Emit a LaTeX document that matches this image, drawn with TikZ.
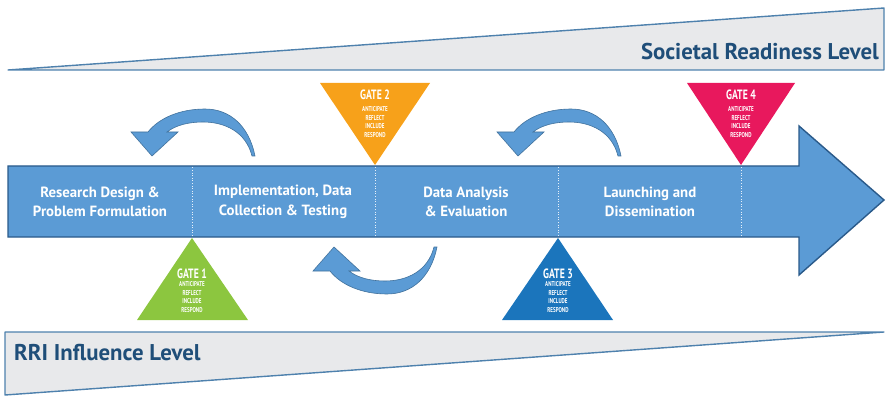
\documentclass[tikz,border=0pt]{standalone}
\usepackage{fontspec}
\setmainfont{PT Sans}
\newfontfamily\condfont[FakeStretch=0.72]{PT Sans}
\definecolor{armfill}{HTML}{5B9BD5}
\definecolor{armline}{HTML}{2A5A8A}
\definecolor{wedgefill}{HTML}{E8E9EB}
\definecolor{wedgeline}{HTML}{4E81AD}
\definecolor{titlecol}{HTML}{1F4E79}
\definecolor{gorange}{HTML}{F7A11A}
\definecolor{gpink}{HTML}{E8185D}
\definecolor{ggreen}{HTML}{8CC63F}
\definecolor{gblue}{HTML}{1B75BC}
\definecolor{curveline}{HTML}{41719C}
\tikzset{
  wedge/.style={fill=wedgefill, draw=wedgeline, line width=1.4pt, line join=round},
  titletext/.style={text=titlecol, font=\bfseries\fontsize{22.8}{24}\selectfont, inner sep=0pt},
  mainarrow/.style={fill=armfill, draw=armline, line width=1.4pt, line join=miter},
  divider/.style={draw=white!85!armfill, line width=0.6pt, dotted},
  stagetext/.style={text=white, font=\bfseries\fontsize{14.8}{19.5}\selectfont, align=center, inner sep=0pt},
  gatetitle/.style={text=white, font=\condfont\bfseries\fontsize{13.5}{13.5}\selectfont, inner sep=0pt},
  gatesub/.style={text=white, font=\condfont\bfseries\fontsize{7}{8.7}\selectfont, align=center, inner sep=0pt},
  curvearrow/.style={fill=armfill, draw=curveline, line width=0.6pt, line join=miter},
}
\newcommand{\curvedshape}{(0,0) .. controls (-6,-30) and (-25,-47) .. (-50,-47) .. controls (-75,-47) and (-96,-38) .. (-107,-24) -- (-124,-24) -- (-103,0) -- (-77,-24) -- (-88,-24) .. controls (-79,-31) and (-66,-34) .. (-52,-34) .. controls (-30,-34) and (-9,-24) .. (-3,0) -- cycle}
\begin{document}
\begin{tikzpicture}[x=1pt,y=-1pt]
\useasboundingbox (0,0) rectangle (886,398);
% top wedge
\path[wedge] (8,70) -- (884,8) -- (884,70) -- cycle;
\node[titletext, anchor=base east] (srl) at (879,60) {Societal Readiness Level};
% bottom wedge
\path[wedge] (5,332) -- (884,332) -- (5,395) -- cycle;
\node[titletext, anchor=base west] (rri) at (14,360) {RRI Influence Level};
% main arrow
\path[mainarrow] (8,166) -- (799,166) -- (799,126) -- (884,200) -- (799,275) -- (799,237) -- (8,237) -- cycle;
\foreach \x in {192,375,558,741} \draw[divider] (\x,167.5) -- (\x,235.5);
\node[stagetext] (s1) at (100,202) {Research Design \&\\Problem Formulation};
\node[stagetext] (s2) at (283,202) {Implementation, Data\\Collection \& Testing};
\node[stagetext] (s3) at (466,202) {Data Analysis\\\& Evaluation};
\node[stagetext] (s4) at (650,202) {Launching and\\Dissemination};
% gates
\fill[gorange] (320,83) -- (430,83) -- (375,165) -- cycle;
\fill[gpink] (687,83) -- (795,83) -- (741,165) -- cycle;
\fill[ggreen] (192,238) -- (248,320) -- (137,320) -- cycle;
\fill[gblue] (558,238) -- (613,320) -- (502,320) -- cycle;
\node[gatetitle] (g2) at (375,95) {GATE 2};
\node[gatesub] (g2s) at (375,122) {ANTICIPATE\\REFLECT\\INCLUDE\\RESPOND};
\node[gatetitle] (g4) at (741,95) {GATE 4};
\node[gatesub] (g4s) at (741,122) {ANTICIPATE\\REFLECT\\INCLUDE\\RESPOND};
\node[gatetitle] (g1) at (192,274) {GATE 1};
\node[gatesub] (g1s) at (192,297) {ANTICIPATE\\REFLECT\\INCLUDE\\RESPOND};
\node[gatetitle] (g3) at (558,274) {GATE 3};
\node[gatesub] (g3s) at (558,297) {ANTICIPATE\\REFLECT\\INCLUDE\\RESPOND};
% curved arrows
\begin{scope}[shift={(255,156)}]
\path[curvearrow] \curvedshape;
\end{scope}
\begin{scope}[shift={(621,156)}]
\path[curvearrow] \curvedshape;
\end{scope}
\begin{scope}[shift={(437,247)}, yscale=-1]
\path[curvearrow] \curvedshape;
\end{scope}
\end{tikzpicture}
\end{document}
